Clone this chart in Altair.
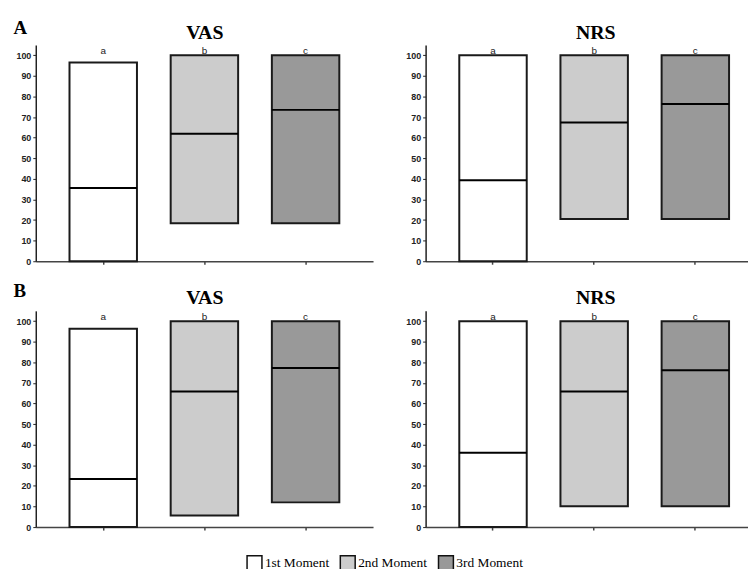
import altair as alt
import pandas as pd

moments = ["1st Moment", "2nd Moment", "3rd Moment"]
letters = ["a", "b", "c"]
fills = ["#ffffff", "#cccccc", "#999999"]
y_ticks = [0, 10, 20, 30, 40, 50, 60, 70, 80, 90, 100]

# Panel A
a_vas_low = [0, 18.4, 18.4]
a_vas_high = [96.5, 100, 100]
a_vas_median = [35.6, 61.9, 73.5]

a_nrs_low = [0, 20.5, 20.5]
a_nrs_high = [100, 100, 100]
a_nrs_median = [39.3, 67.4, 76.4]

# Panel B
b_vas_low = [0, 5.6, 12.0]
b_vas_high = [96.3, 100, 100]
b_vas_median = [23.4, 65.8, 77.3]

b_nrs_low = [0, 10.1, 10.1]
b_nrs_high = [100, 100, 100]
b_nrs_median = [36.1, 65.8, 76.2]


def frame(low, high, median):
    return pd.DataFrame({"moment": moments, "letter": letters,
                         "low": low, "high": high, "median": median})


def panel(df, title, row_letter, letter_y, width, pad_outer, align, title_dx):
    xs = alt.Scale(domain=moments, paddingInner=1 / 3, paddingOuter=pad_outer, align=align)
    xaxis = alt.Axis(labels=False, title=None, domainColor="#444444", domainWidth=1.5,
                     tickColor="#444444", tickSize=3, tickWidth=1.5)
    xaxis_top = alt.Axis(orient="top", labels=False, ticks=False, domain=False,
                         title=title, titleFont="Liberation Serif", titleFontSize=20,
                         titleFontWeight="bold", titleColor="black",
                         titleBaseline="alphabetic", titleAlign="center",
                         titleX=width / 2 + title_dx, titleY=-7)
    axis_kw = dict(values=y_ticks, labelFont="Liberation Sans", labelFontWeight="bold",
                   labelFontSize=9, labelColor="#222222", labelPadding=2,
                   tickSize=3, tickColor="#222222", tickWidth=1,
                   domainColor="#222222", domainWidth=1.5, grid=False)
    if row_letter:
        yaxis = alt.Axis(title=row_letter, titleAngle=0, titleAlign="left",
                         titleBaseline="alphabetic", titleX=-23, titleY=letter_y,
                         titleFont="Liberation Serif", titleFontSize=19,
                         titleFontWeight="bold", titleColor="black", **axis_kw)
    else:
        yaxis = alt.Axis(title=None, **axis_kw)
    ys = alt.Scale(domain=[0, 105], nice=False, zero=True)

    bars = alt.Chart(df).mark_bar(stroke="#1a1a1a", strokeWidth=2).encode(
        x=alt.X("moment:N", sort=moments, scale=xs, axis=xaxis),
        y=alt.Y("low:Q", scale=ys, axis=yaxis),
        y2="high:Q",
        fill=alt.Fill("moment:N", sort=moments,
                      scale=alt.Scale(domain=moments, range=fills),
                      legend=alt.Legend(title=None, orient="none", direction="horizontal",
                                        legendX=212, legendY=514,
                                        symbolType="square", symbolSize=225,
                                        symbolStrokeColor="#111111", symbolStrokeWidth=1.5,
                                        labelFont="Liberation Serif", labelFontSize=13.5,
                                        labelColor="black", labelOffset=2,
                                        columnPadding=8)),
    )
    med = alt.Chart(df).mark_tick(color="#000000", thickness=2, size=68, opacity=1).encode(
        x=alt.X("moment:N", sort=moments, scale=xs, axis=None),
        y=alt.Y("median:Q", scale=ys, axis=yaxis),
    )
    lab = alt.Chart(df).mark_text(baseline="alphabetic", dy=-1, font="Liberation Sans",
                                  fontSize=10, color="#222222").encode(
        x=alt.X("moment:N", sort=moments, scale=xs, axis=xaxis_top),
        y=alt.Y(datum=100, scale=ys, axis=yaxis),
        text="letter:N",
    )
    return alt.layer(bars, med, lab).resolve_axis(x="independent").properties(
        width=width, height=218,
    )


top = alt.hconcat(
    panel(frame(a_vas_low, a_vas_high, a_vas_median), "VAS", "A", -12, 340, 1 / 3, 0.5, 0),
    panel(frame(a_nrs_low, a_nrs_high, a_nrs_median), "NRS", None, 0, 325, 0.26, 0.64, 8.5),
    spacing=32,
)
bottom = alt.hconcat(
    panel(frame(b_vas_low, b_vas_high, b_vas_median), "VAS", "B", -14, 340, 1 / 3, 0.5, 0),
    panel(frame(b_nrs_low, b_nrs_high, b_nrs_median), "NRS", None, 0, 325, 0.26, 0.64, 8.5),
    spacing=32,
)

chart = alt.vconcat(top, bottom, spacing=16).properties(
    padding={"left": 5, "top": 8, "right": 0, "bottom": 0},
    background="white",
).configure_view(stroke=None)

chart.save("out.html", embed_options={"renderer": "svg", "actions": False})
